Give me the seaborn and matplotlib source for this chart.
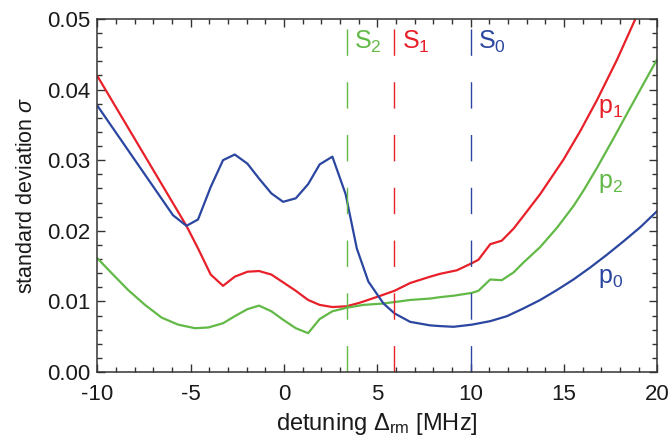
import numpy as np
import pandas as pd
import matplotlib
matplotlib.use("Agg")
import matplotlib.pyplot as plt
import seaborn as sns
from matplotlib.ticker import MultipleLocator, FormatStrFormatter

# p0 (blue)
x_p0 = [-10, -5.95, -5.23, -4.61, -3.93, -3.27, -2.64, -1.96, -1.34, -0.68, -0.05,
        0.63, 1.29, 1.91, 2.59, 3.3, 3.9, 4.52, 5.33, 5.92, 6.76, 7.83, 8.36, 9.08, 10.06,
        11.05, 11.94, 12.83, 13.73, 14.62, 15.51, 16.41, 17.30, 18.19, 19.09, 20.0]
y_p0 = [0.0377, 0.0222, 0.0207, 0.0216, 0.0262, 0.0300, 0.0308, 0.0295, 0.0274, 0.0253, 0.0241,
        0.0246, 0.0266, 0.0294, 0.0305, 0.0252, 0.0175, 0.0128, 0.0097, 0.0083, 0.0071, 0.0066,
        0.0065, 0.0064, 0.0067, 0.0072, 0.0079, 0.0090, 0.0102, 0.0116, 0.0131, 0.0148, 0.0166,
        0.0185, 0.0205, 0.0228]

# p1 (red)
x_p1 = [-10, -5.23, -4.61, -3.93, -3.27, -2.64, -1.96, -1.34, -0.68, -0.05, 0.63, 1.29,
        1.91, 2.59, 3.34, 4.05, 5.06, 5.92, 6.76, 7.83, 8.36, 9.26, 10.06, 10.42, 11.05, 11.67,
        12.30, 12.83, 13.73, 14.98, 15.87, 16.77, 17.84, 18.88]
y_p1 = [0.0419, 0.0207, 0.0175, 0.0138, 0.0122, 0.0135, 0.0142, 0.0143, 0.0138, 0.0127, 0.0115,
        0.0102, 0.0095, 0.0092, 0.0093, 0.0098, 0.0107, 0.0115, 0.0126, 0.0135, 0.0139, 0.0144,
        0.0154, 0.0159, 0.0181, 0.0186, 0.0203, 0.0221, 0.0252, 0.0301, 0.0341, 0.0385, 0.0442,
        0.0503]

# p2 (green)
x_p2 = [-10, -9.24, -8.35, -7.45, -6.56, -5.67, -4.77, -4.06, -3.27, -2.64, -1.96, -1.34,
        -0.68, -0.05, 0.63, 1.29, 1.91, 2.59, 3.36, 4.25, 5.33, 6.76, 7.83, 8.36, 9.08, 10.06,
        10.42, 11.05, 11.67, 12.30, 12.83, 13.73, 14.62, 15.51, 16.05, 16.77, 17.66, 18.55,
        19.45, 20.0]
y_p2 = [0.0161, 0.0140, 0.0116, 0.0095, 0.0077, 0.0067, 0.0062, 0.0063, 0.0069, 0.0079, 0.0089,
        0.0094, 0.0086, 0.0074, 0.0062, 0.0055, 0.0075, 0.0086, 0.0091, 0.0095, 0.0097, 0.0102,
        0.0104, 0.0106, 0.0108, 0.0112, 0.0115, 0.0131, 0.0130, 0.0141, 0.0155, 0.0177, 0.0204,
        0.0235, 0.0257, 0.0289, 0.0331, 0.0374, 0.0417, 0.0443]

# threshold detunings S2, S1, S0
s_names = ["S$_\\mathregular{2}$", "S$_\\mathregular{1}$", "S$_\\mathregular{0}$"]
s_pos = [3.36, 5.92, 10.0]

blue = "#2b46a0"
red = "#e8202a"
green = "#62b947"

sns.set_style("ticks")
plt.rcParams["font.family"] = ["Liberation Sans", "DejaVu Sans"]
plt.rcParams["mathtext.fontset"] = "custom"
plt.rcParams["mathtext.rm"] = "Liberation Sans"
plt.rcParams["mathtext.it"] = "Liberation Sans:italic"
plt.rcParams["axes.unicode_minus"] = False

fig = plt.figure(figsize=(6.72, 4.41), dpi=100)
ax = fig.add_axes([0.145, 0.1565, 0.833, 0.8005])

for xs, ys, c in [(x_p1, y_p1, red), (x_p2, y_p2, green), (x_p0, y_p0, blue)]:
    d = pd.DataFrame({"x": xs, "y": ys})
    sns.lineplot(data=d, x="x", y="y", color=c, linewidth=1.6, ax=ax, sort=False)

for name, xv, c in zip(s_names, s_pos, [green, red, blue]):
    ax.axvline(xv, color=c, linewidth=1.0, dashes=(19, 19))
    ax.text(xv + 0.4, 0.0467, name, color=c, fontsize=18, va="center", ha="left")

ax.text(16.84, 0.0374, "p$_\\mathregular{1}$", color=red, fontsize=18, va="center")
ax.text(16.84, 0.0267, "p$_\\mathregular{2}$", color=green, fontsize=18, va="center")
ax.text(16.84, 0.0133, "p$_\\mathregular{0}$", color=blue, fontsize=18, va="center")

ax.set_xlim(-10, 20)
ax.set_ylim(0, 0.05)
ax.xaxis.set_major_locator(MultipleLocator(5))
ax.xaxis.set_minor_locator(MultipleLocator(1))
ax.yaxis.set_major_locator(MultipleLocator(0.01))
ax.yaxis.set_minor_locator(MultipleLocator(0.002))
ax.yaxis.set_major_formatter(FormatStrFormatter("%.2f"))

ax.tick_params(which="both", direction="in", top=True, right=True, colors="#333333",
               labelcolor="#1a1a1a", labelsize=16, width=1.0)
ax.tick_params(which="major", length=6)
ax.tick_params(which="minor", length=3.5)
ax.tick_params(axis="x", which="major", pad=9)
ax.tick_params(axis="y", which="major", pad=5)
for sp in ax.spines.values():
    sp.set_color("#333333")
    sp.set_linewidth(1.1)

ax.set_xlabel("detuning $\\Delta_\\mathregular{rm}$ [MHz]", fontsize=17, color="#1a1a1a", labelpad=4)
ax.set_ylabel("standard deviation $\\mathit{\\sigma}$", fontsize=15.5, color="#1a1a1a", labelpad=7)

fig.savefig("out.png", dpi=100)
